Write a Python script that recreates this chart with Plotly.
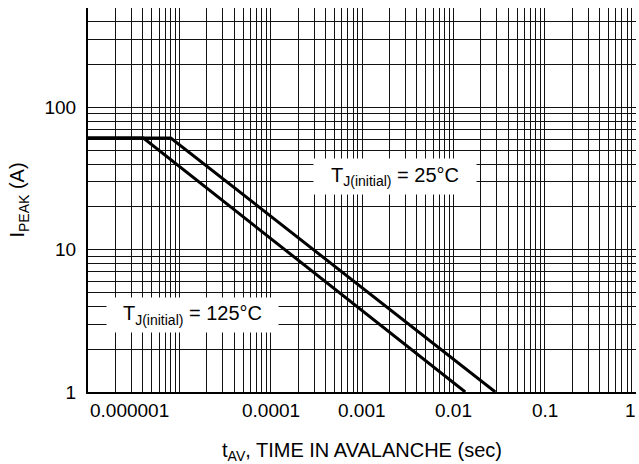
import numpy as np
import plotly.graph_objects as go

# ---- data ----
t_25 = [1e-6, 8.06e-6, 0.0288]      # s
i_25 = [61, 61, 1]                  # A
t_125 = [1e-6, 4.04e-6, 0.0135]     # s
i_125 = [61, 61, 1]                 # A

x_tick_vals = [1e-6, 1e-5, 1e-4, 1e-3, 1e-2, 1e-1, 1]
x_tick_text = ["0.000001", "", "0.0001", "0.001", "0.01", "0.1", "1"]
y_tick_vals = [1, 10, 100]
y_tick_text = ["1", "10", "100"]

label_25 = "T<sub>J(initial)</sub> = 25°C"
label_125 = "T<sub>J(initial)</sub> = 125°C"

FONT = "Liberation Sans, Arial, Helvetica, sans-serif"
INK = "#000000"

fig = go.Figure()
fig.add_trace(go.Scatter(x=t_25, y=i_25, mode="lines",
                         line=dict(color=INK, width=3), showlegend=False, hoverinfo="skip"))
fig.add_trace(go.Scatter(x=t_125, y=i_125, mode="lines",
                         line=dict(color=INK, width=3), showlegend=False, hoverinfo="skip"))

# curve labels with white boxes
fig.add_annotation(x=np.log10(2.31e-3), y=np.log10(32.5), xref="x", yref="y",
                   text=label_25, showarrow=False, bgcolor="white",
                   width=160, height=33, font=dict(family=FONT, size=20, color=INK))
fig.add_annotation(x=np.log10(1.4e-5), y=np.log10(3.48), xref="x", yref="y",
                   text=label_125, showarrow=False, bgcolor="white",
                   width=169, height=32, font=dict(family=FONT, size=20, color=INK))

# x tick labels (end ones aligned to the axis ends, as in the reference)
n = len(x_tick_vals)
for i, (v, t) in enumerate(zip(x_tick_vals, x_tick_text)):
    if not t:
        continue
    anchor = "left" if i == 0 else ("right" if i == n - 1 else "center")
    fig.add_annotation(x=np.log10(v), y=0, xref="x", yref="paper",
                       text=t, showarrow=False, yanchor="top", yshift=-6,
                       xanchor=anchor, xshift=2 if i == n - 1 else 0,
                       font=dict(family=FONT, size=19, color=INK))

grid_col = "#111111"
fig.update_xaxes(type="log", range=[-6, 0],
                 tickvals=x_tick_vals, ticktext=x_tick_text, showticklabels=False,
                 showgrid=True, gridcolor=grid_col, gridwidth=1,
                 minor=dict(dtick="D1", showgrid=True, gridcolor=grid_col, gridwidth=1, ticks=""),
                 showline=True, linecolor=INK, linewidth=2, ticks="", zeroline=False,
                 title=dict(text="t<sub>AV</sub>, TIME IN AVALANCHE (sec)",
                            font=dict(family=FONT, size=20, color=INK), standoff=51))
fig.update_yaxes(type="log", range=[0, np.log10(500)],
                 tickvals=y_tick_vals, ticktext=y_tick_text,
                 tickfont=dict(family=FONT, size=19, color=INK), ticklabelstandoff=6,
                 showgrid=True, gridcolor=grid_col, gridwidth=1,
                 minor=dict(dtick="D1", showgrid=True, gridcolor=grid_col, gridwidth=1, ticks=""),
                 showline=True, linecolor=INK, linewidth=2, ticks="", zeroline=False,
                 title=dict(text="I<sub>PEAK</sub> (A)",
                            font=dict(family=FONT, size=20, color=INK), standoff=14))

fig.update_layout(width=639, height=464, margin=dict(l=88, r=3, t=8, b=72, autoexpand=False),
                  plot_bgcolor="white", paper_bgcolor="white",
                  font=dict(family=FONT, color=INK))
fig.write_html("out.html")
